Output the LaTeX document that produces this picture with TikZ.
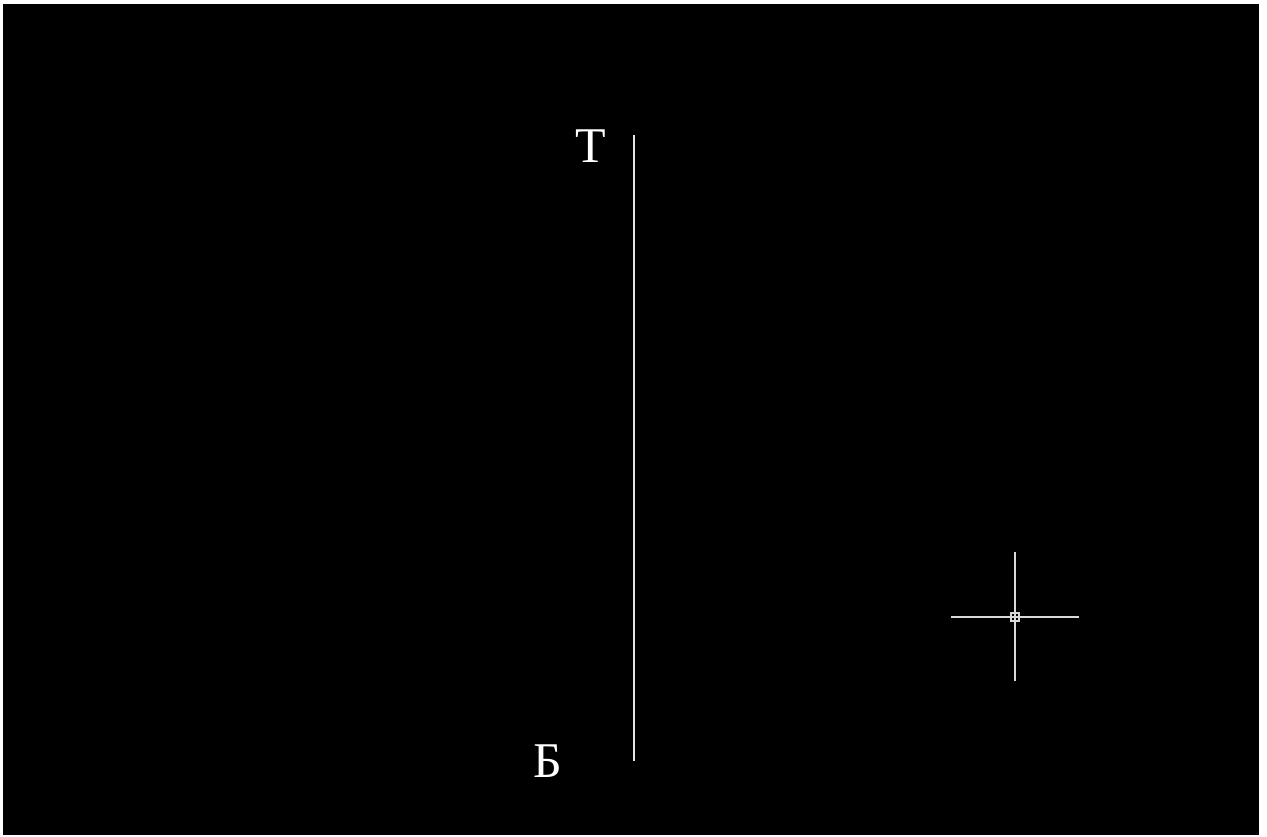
\documentclass[tikz,border=0pt]{standalone}
\usepackage{fontspec}
\setmainfont{Liberation Serif}
\begin{document}
\begin{tikzpicture}[x=1pt,y=-1pt,
  lbl/.style={text=white,font=\fontsize{50}{50}\selectfont,inner sep=0pt,anchor=base},
  ln/.style={draw=white!90!black,line width=1.6pt},
  cross/.style={draw=white!85!black,line width=1.3pt}]
\useasboundingbox (0,0) rectangle (1267,837);
\fill[white] (0,0) rectangle (1267,837);
\fill[black] (3,4) rectangle (1259,835);
\node[lbl] (t) at (591,163) {Т};
\node[lbl] (b) at (548,777) {Б};
\coordinate (top) at (634,135);
\coordinate (bot) at (634,761);
\draw[ln] (top) -- (bot);
\coordinate (c) at (1015,617);
\coordinate (cl) at (951,617);
\coordinate (cr) at (1079,617);
\coordinate (ct) at (1015,552);
\coordinate (cb) at (1015,681);
\draw[cross] (cl) -- (cr);
\draw[cross] (ct) -- (cb);
\node[draw=white!85!black,line width=1.1pt,minimum size=8pt,inner sep=0pt] (sq) at (c) {};
\end{tikzpicture}
\end{document}
